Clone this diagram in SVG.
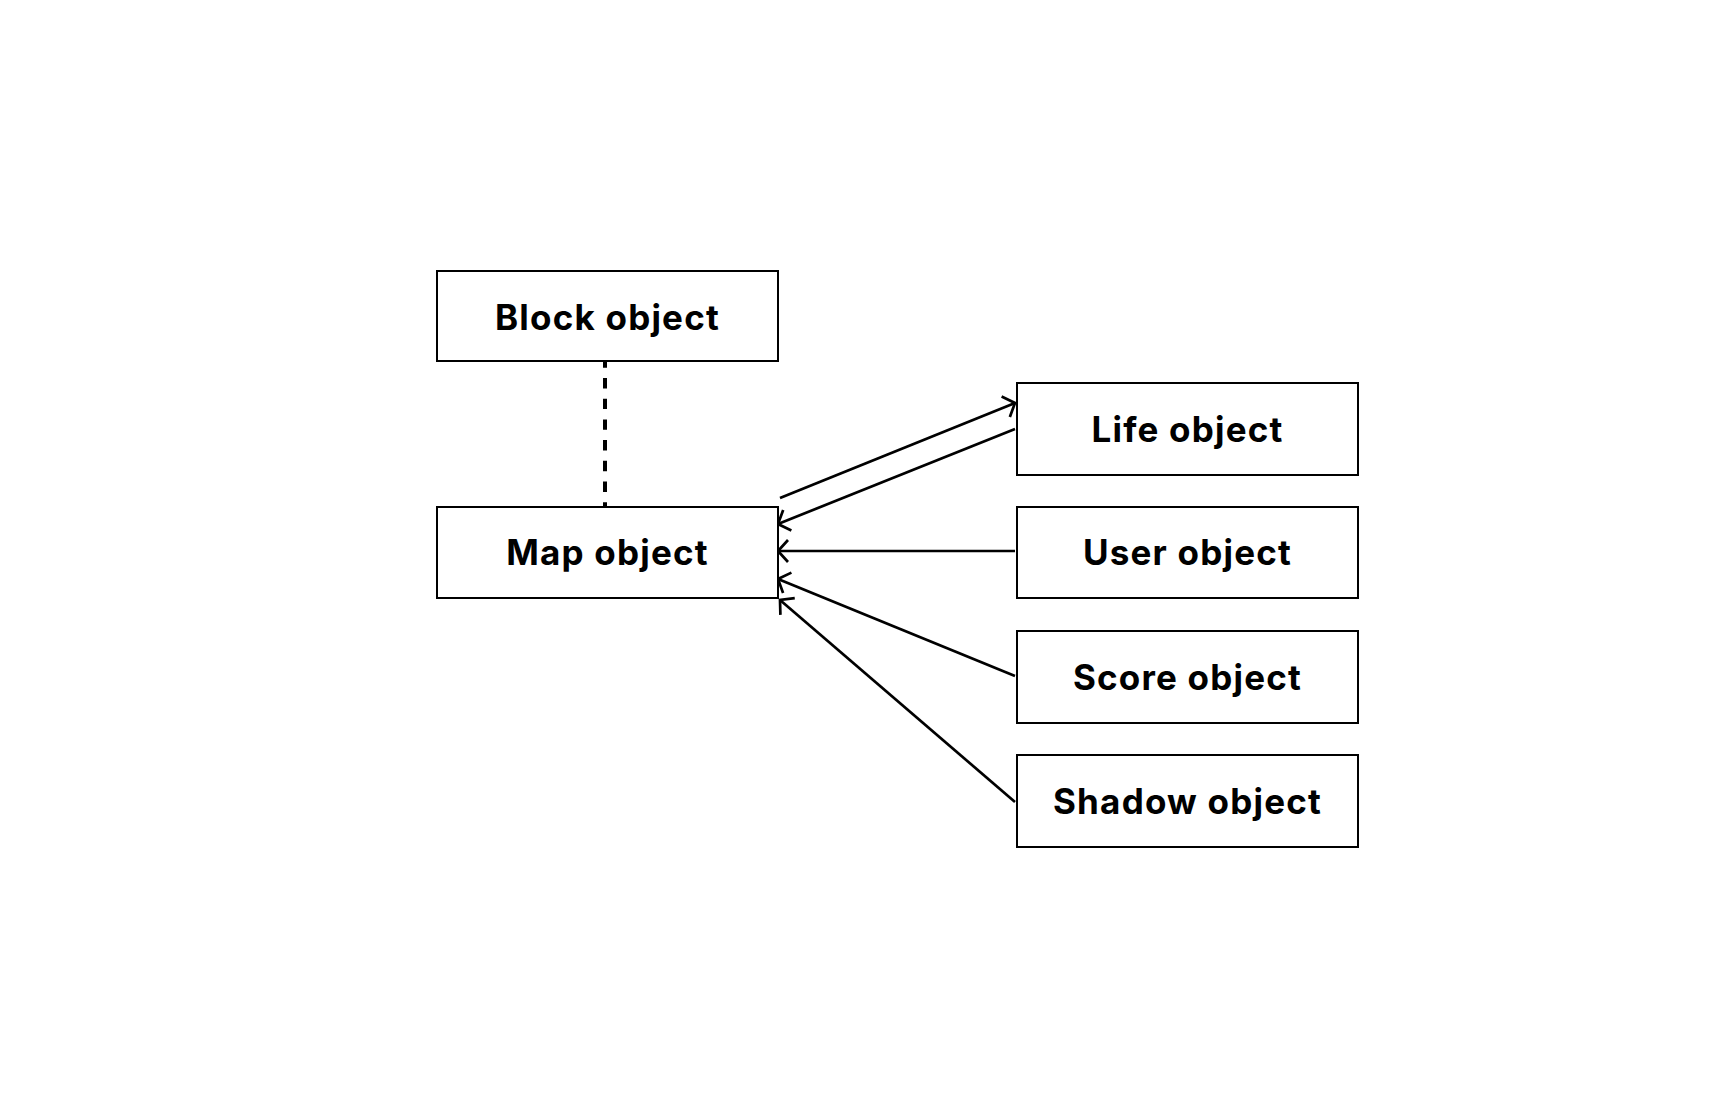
<svg xmlns="http://www.w3.org/2000/svg" width="1728" height="1117" viewBox="0 0 1728 1117">
<style>
.box{fill:#ffffff;stroke:#000000;stroke-width:2}
.lbl{font-family:Inter,"Noto Sans",sans-serif;font-weight:700;font-size:35px;fill:#000000;text-anchor:middle;letter-spacing:1.2px}
.con{stroke:#000000;stroke-width:2.7;fill:none}
.dash{stroke:#000000;stroke-width:4;fill:none;stroke-dasharray:10.4 10.3;stroke-dashoffset:3.7}
</style>
<defs>
<marker id="arr" markerUnits="userSpaceOnUse" markerWidth="30" markerHeight="30" viewBox="-15 -15 30 30" refX="0" refY="0" orient="auto" overflow="visible">
<path d="M-10,-11 L0,0 L-10,11" fill="none" stroke="#000000" stroke-width="2.7"/>
</marker>
</defs>
<rect width="1728" height="1117" fill="#ffffff"/>
<g id="connectors">
<line class="dash" x1="605" y1="361" x2="605" y2="507"/>
<line class="con" x1="780" y1="498" x2="1015" y2="403" marker-end="url(#arr)"/>
<line class="con" x1="1015" y1="429" x2="778" y2="524" marker-end="url(#arr)"/>
<line class="con" x1="1015" y1="551" x2="778" y2="551" marker-end="url(#arr)"/>
<line class="con" x1="1015" y1="676" x2="778" y2="579" marker-end="url(#arr)"/>
<line class="con" x1="1015" y1="802" x2="780" y2="600" marker-end="url(#arr)"/>
</g>
<g id="block">
<rect class="box" x="437" y="271" width="341" height="90"/>
<text class="lbl" x="607.5" y="330">Block object</text>
</g>
<g id="map">
<rect class="box" x="437" y="507" width="341" height="91"/>
<text class="lbl" x="607.5" y="565">Map object</text>
</g>
<g id="life">
<rect class="box" x="1017" y="383" width="341" height="92"/>
<text class="lbl" x="1187.5" y="442">Life object</text>
</g>
<g id="user">
<rect class="box" x="1017" y="507" width="341" height="91"/>
<text class="lbl" x="1187.5" y="565">User object</text>
</g>
<g id="score">
<rect class="box" x="1017" y="631" width="341" height="92"/>
<text class="lbl" x="1187.5" y="690">Score object</text>
</g>
<g id="shadow">
<rect class="box" x="1017" y="755" width="341" height="92"/>
<text class="lbl" x="1187.5" y="814">Shadow object</text>
</g>
</svg>
